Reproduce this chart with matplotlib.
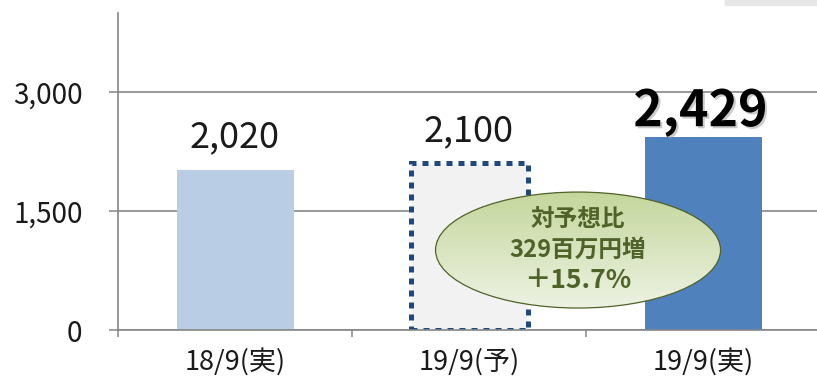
import matplotlib
matplotlib.use("Agg")
import matplotlib.pyplot as plt
import matplotlib.patheffects as pe
from matplotlib.patches import Ellipse, Rectangle
import numpy as np

plt.rcParams['font.family'] = ['Noto Sans CJK JP', 'DejaVu Sans']

# data
categories = ['18/9(実)', '19/9(予)', '19/9(実)']
values = [2020, 2100, 2429]
value_labels = ['2,020', '2,100', '2,429']
y_ticks = [0, 1500, 3000]
y_tick_labels = ['0', '1,500', '3,000']
callout_lines = ['対予想比', '329百万円増', '＋15.7%']

fig = plt.figure(figsize=(8.17, 3.76), dpi=100)
ax = fig.add_axes([118 / 817, 46 / 376, 702 / 817, 317.3 / 376])

x = np.arange(len(categories))
ax.bar(x[0], values[0], width=0.5, color='#B9CDE5', zorder=2)
ax.bar(x[1], values[1], width=0.5, color='#F2F2F2', edgecolor='#1F497D',
       linewidth=3.6, linestyle=(0, (1.2, 1.2)), capstyle='butt', zorder=2)
ax.bar(x[2], values[2], width=0.5, color='#4F81BD', zorder=2)

# value labels
for i in range(2):
    ax.annotate(value_labels[i], (x[i], values[i]), xytext=(0, 16),
                textcoords='offset points', ha='center', va='baseline',
                fontsize=26, color='#1a1a1a')
big = ax.annotate(value_labels[2], (x[2], values[2]), xytext=(-2, 8),
                  textcoords='offset points', ha='center', va='baseline',
                  fontsize=36, fontweight='bold', color='black', zorder=5)
big.set_path_effects([pe.SimplePatchShadow(offset=(1.5, -1.5), shadow_rgbFace='#999999', alpha=0.5),
                      pe.Normal()])

ax.set_xlim(-0.5, 2.5)
ax.set_ylim(0, 4000)
ax.set_yticks(y_ticks)
ax.set_yticklabels(y_tick_labels, fontsize=20, color='#1a1a1a')
ax.tick_params(axis='y', direction='out', length=6.5, width=1.1, color='#868686', pad=19)

ax.set_xticks(x)
ax.set_xticklabels(categories, fontsize=19.5, color='#1a1a1a')
ax.tick_params(axis='x', length=0, pad=13)
ax.set_xticks([-0.5, 0.5, 1.5], minor=True)
ax.tick_params(axis='x', which='minor', direction='out', length=5, width=1.1, color='#868686')

ax.yaxis.grid(True, color='#868686', linewidth=1.2, zorder=0)
ax.set_axisbelow(True)
for s in ['top', 'right']:
    ax.spines[s].set_visible(False)
for s in ['left', 'bottom']:
    ax.spines[s].set_color('#868686')
    ax.spines[s].set_linewidth(1.2)
    ax.spines[s].set_zorder(3)

# callout ellipse with gradient fill
ex, ey, ew, eh = 1.466, 1008, 1.218, 1462
ell = Ellipse((ex, ey), ew, eh, facecolor='none', edgecolor='#4F6228', linewidth=0.9, zorder=7)
ax.add_patch(ell)
grad = np.linspace(0, 1, 256).reshape(-1, 1)
top_c = np.array([0.77, 0.84, 0.61])
bot_c = np.array([0.93, 0.95, 0.89])
img = top_c[None, None, :] * (1 - grad[:, :, None]) + bot_c[None, None, :] * grad[:, :, None]
im = ax.imshow(img, extent=[ex - ew / 2, ex + ew / 2, ey - eh / 2, ey + eh / 2],
               origin='upper', aspect='auto', zorder=6)
im.set_clip_path(ell)

offsets = [(0, 22, 17), (0, 0, 17), (0, -22, 19)]
for line, (dx, dy, fs) in zip(callout_lines, offsets):
    ax.annotate(line, (ex, ey), xytext=(dx, dy), textcoords='offset points',
                ha='center', va='center', fontsize=fs, fontweight='bold',
                color='#4F6228', zorder=8)

# faint box edge at top right
fig.patches.append(Rectangle((725 / 817, 371 / 376), 92 / 817, 5 / 376,
                             transform=fig.transFigure, color='#E6E6E6', zorder=0))

fig.savefig('out.png', dpi=100)
